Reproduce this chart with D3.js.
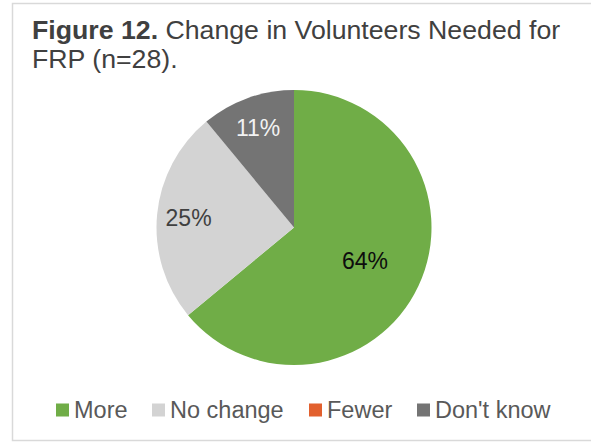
<!DOCTYPE html>
<html>
<head>
<meta charset="utf-8">
<script src="https://cdn.jsdelivr.net/npm/d3@7"></script>
<style>
  html, body { margin: 0; padding: 0; background: #fff; }
  svg { display: block; font-family: "Liberation Sans", Arial, sans-serif; }
</style>
</head>
<body>
<svg id="chart" width="591" height="442"></svg>
<script>
// Survey responses: change in volunteers needed (share of respondents, %)
const categories = ["More", "No change", "Fewer", "Don't know"];
const shares = [64, 25, 0, 11];
const sliceColors = ["#70ad47", "#d3d3d3", "#e2602e", "#747474"];
const labelColors = ["#0d0d0d", "#404040", "#404040", "#f2f2f2"];

const svg = d3.select("#chart");

// outer frame
svg.append("rect")
  .attr("x", 12.5).attr("y", 3.5)
  .attr("width", 600).attr("height", 437)
  .attr("fill", "#fff")
  .attr("stroke", "#d9d9d9").attr("stroke-width", 1.5);

// title
const title = svg.append("text")
  .attr("x", 32).attr("y", 39)
  .attr("fill", "#404040")
  .style("font-size", "26.7px");
title.append("tspan").attr("font-weight", "bold").text("Figure 12.");
title.append("tspan").text(" Change in Volunteers Needed for");
svg.append("text")
  .attr("x", 32).attr("y", 68)
  .attr("fill", "#404040")
  .style("font-size", "26.7px")
  .text("FRP (n=28).");

// pie
const cx = 294, cy = 227.5, r = 137.5;
const data = categories.map((c, i) => ({ name: c, value: shares[i], i }));

const pie = d3.pie().value(d => d.value).sort(null);
const arcs = pie(data);
const arc = d3.arc().innerRadius(0).outerRadius(r);

const g = svg.append("g").attr("transform", `translate(${cx},${cy})`);

g.selectAll("path.slice")
  .data(arcs.filter(a => a.data.value > 0))
  .join("path")
  .attr("class", "slice")
  .attr("d", arc)
  .attr("fill", d => sliceColors[d.data.i]);

// data labels: large slice labelled nearer the centre
g.selectAll("text.lbl")
  .data(arcs.filter(a => a.data.value > 0))
  .join("text")
  .attr("class", "lbl")
  .attr("transform", d => {
    const k = d.data.value > 50 ? 0.57 : 0.77;
    const la = d3.arc().innerRadius(r * k).outerRadius(r * k);
    const [x, y] = la.centroid(d);
    return `translate(${x},${y})`;
  })
  .attr("text-anchor", "middle")
  .attr("dy", "0.35em")
  .attr("fill", d => labelColors[d.data.i])
  .style("font-size", "23px")
  .text(d => d.data.value + "%");

// legend
const legendX = [56, 152, 309, 417];
const legendY = 410;
const lg = svg.append("g");
categories.forEach((c, i) => {
  lg.append("rect")
    .attr("x", legendX[i]).attr("y", legendY - 6.5)
    .attr("width", 13).attr("height", 13)
    .attr("fill", sliceColors[i]);
  lg.append("text")
    .attr("x", legendX[i] + 18).attr("y", legendY)
    .attr("dy", "0.35em")
    .attr("fill", "#595959")
    .style("font-size", "23.5px")
    .text(c);
});
</script>
</body>
</html>
